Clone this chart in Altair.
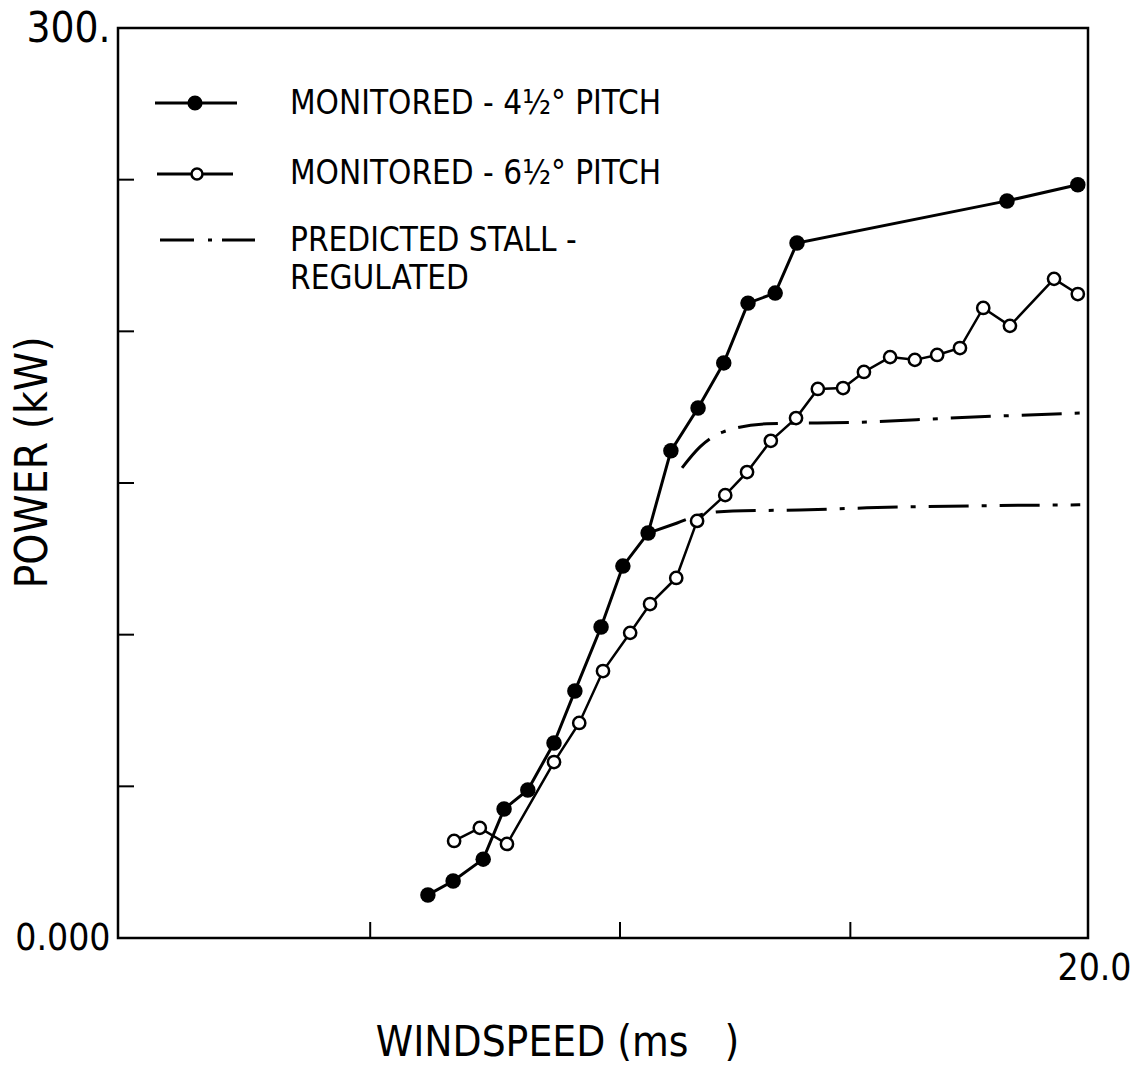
import altair as alt
import pandas as pd

# ---- data ----
ws_45 = [6.39, 6.91, 7.53, 7.96, 8.45, 8.99, 9.42, 9.96, 10.41, 10.93, 11.40,
         11.96, 12.49, 12.99, 13.55, 14.00, 18.33, 19.79]
p_45 = [14.2, 18.8, 26.0, 42.5, 48.8, 64.3, 81.4, 102.5, 122.6, 133.5, 160.6,
        174.7, 189.6, 209.3, 212.6, 229.1, 243.0, 248.3]

ws_65 = [6.93, 7.46, 8.02, 8.99, 9.51, 10.00, 10.56, 10.97, 11.51, 11.94, 12.52,
         12.97, 13.46, 13.98, 14.43, 14.95, 15.38, 15.92, 16.43, 16.89, 17.36,
         17.84, 18.39, 19.30, 19.79]
p_65 = [32.0, 36.3, 31.0, 58.0, 70.9, 88.0, 100.6, 110.1, 118.7, 137.5, 146.0,
        153.6, 163.9, 171.4, 181.0, 181.3, 186.6, 191.5, 190.6, 192.2, 194.5,
        207.7, 201.8, 217.3, 212.3]

ws_pred_hi = [11.63, 12.00, 12.47, 13.38, 15.44, 17.15, 19.88]
p_pred_hi = [155.0, 161.9, 166.8, 169.5, 170.1, 171.4, 173.1]

ws_pred_lo = [10.93, 11.53, 12.00, 12.68, 14.06, 15.44, 19.84]
p_pred_lo = [133.5, 136.8, 139.5, 140.8, 141.1, 141.8, 142.8]

x_ticks = [5.2, 10.35, 15.1]
y_ticks = [50, 100, 150, 200, 250]

legend_labels = ["MONITORED - 4½° PITCH", "MONITORED - 6½° PITCH",
                 "PREDICTED STALL -", "REGULATED"]
x_title = "WINDSPEED (ms\u00a0\u00a0\u00a0)"
y_title = "POWER (kW)"

FONT = "DejaVu Sans Condensed, Liberation Sans Narrow, DejaVu Sans, sans-serif"

W, H = 970, 910

df45 = pd.DataFrame({"ws": ws_45, "p": p_45})
df65 = pd.DataFrame({"ws": ws_65, "p": p_65})
dfpred = pd.concat([
    pd.DataFrame({"ws": ws_pred_hi, "p": p_pred_hi, "curve": "hi"}),
    pd.DataFrame({"ws": ws_pred_lo, "p": p_pred_lo, "curve": "lo"}),
])
dfxt = pd.DataFrame({"ws": x_ticks})
dfyt = pd.DataFrame({"p": y_ticks})
one = pd.DataFrame({"k": [0]})

xs = alt.Scale(domain=[0, 20], nice=False, zero=False)
ys = alt.Scale(domain=[0, 300], nice=False, zero=False)

x_axis = alt.Axis(values=[20], labelExpr="'20.0'", ticks=False, domain=False, grid=False,
                  labelFlush=False, labelFontSize=37, labelFont=FONT, labelColor="black",
                  labelPadding=12, labelOffset=6,
                  title=x_title, titleFont=FONT, titleFontSize=42, titleFontWeight="normal",
                  titleColor="black", titleX=439, titleY=117, titleAlign="center",
                  titleBaseline="alphabetic")
y_axis = alt.Axis(values=[0, 300], labelExpr="datum.value == 0 ? '0.000' : '300.'",
                  ticks=False, domain=False, grid=False,
                  labelFontSize={"condition": {"test": "datum.value == 0", "value": 37},
                                 "value": 42},
                  labelFont=FONT, labelColor="black", labelPadding=8,
                  title=y_title, titleFont=FONT, titleFontSize=44, titleFontWeight="normal",
                  titleColor="black", titleX=-85, titleY=434, titleAlign="center",
                  titleBaseline="middle", titleAngle=270)

DASH = [40, 13, 5, 13]

pred = alt.Chart(dfpred).mark_line(color="black", strokeWidth=3, strokeDash=DASH,
                                   interpolate="monotone").encode(
    x=alt.X("ws:Q", scale=xs, axis=x_axis),
    y=alt.Y("p:Q", scale=ys, axis=y_axis),
    detail="curve:N",
)

line45 = alt.Chart(df45).mark_line(color="black", strokeWidth=3).encode(
    x=alt.X("ws:Q", scale=xs), y=alt.Y("p:Q", scale=ys))
line65 = alt.Chart(df65).mark_line(color="black", strokeWidth=2.5).encode(
    x=alt.X("ws:Q", scale=xs), y=alt.Y("p:Q", scale=ys))
pts45 = alt.Chart(df45).mark_point(filled=True, color="black", size=240, opacity=1).encode(
    x=alt.X("ws:Q", scale=xs), y=alt.Y("p:Q", scale=ys))
pts65 = alt.Chart(df65).mark_point(filled=True, fill="white", stroke="black", strokeWidth=2.5,
                                   size=150, opacity=1).encode(
    x=alt.X("ws:Q", scale=xs), y=alt.Y("p:Q", scale=ys))

# inward tick marks
xt = alt.Chart(dfxt).mark_rule(color="black", strokeWidth=2).encode(
    x=alt.X("ws:Q", scale=xs), y=alt.value(H), y2=alt.value(H - 16))
yt = alt.Chart(dfyt).mark_rule(color="black", strokeWidth=2).encode(
    y=alt.Y("p:Q", scale=ys), x=alt.value(0), x2=alt.value(16))

# legend (manual)
leg = []
leg.append(alt.Chart(one).mark_rule(color="black", strokeWidth=3).encode(
    x=alt.value(37), x2=alt.value(119), y=alt.value(75)))
leg.append(alt.Chart(one).mark_point(filled=True, color="black", size=230, opacity=1).encode(
    x=alt.value(77), y=alt.value(75)))
leg.append(alt.Chart(one).mark_rule(color="black", strokeWidth=3).encode(
    x=alt.value(39), x2=alt.value(115), y=alt.value(146)))
leg.append(alt.Chart(one).mark_point(filled=True, fill="white", stroke="black", strokeWidth=2.5,
                                     size=120, opacity=1).encode(
    x=alt.value(79), y=alt.value(146)))
leg.append(alt.Chart(one).mark_rule(color="black", strokeWidth=3, strokeDash=[34, 14, 4, 10]).encode(
    x=alt.value(42), x2=alt.value(137), y=alt.value(212)))
for i, yy in enumerate([76, 146, 213, 251]):
    leg.append(alt.Chart(one).mark_text(align="left", baseline="middle", font=FONT,
                                        fontSize=33, color="black").encode(
        x=alt.value(172), y=alt.value(yy), text=alt.value(legend_labels[i])))

chart = alt.layer(pred, line45, line65, pts45, pts65, xt, yt, *leg).properties(
    width=W, height=H,
    autosize=alt.AutoSizeParams(type="none"),
    padding={"left": 118, "top": 28, "right": 48, "bottom": 130},
    background="white",
).configure_view(stroke="black", strokeWidth=2.5)

chart.save("out.html", embed_options={"renderer": "svg", "actions": False})
